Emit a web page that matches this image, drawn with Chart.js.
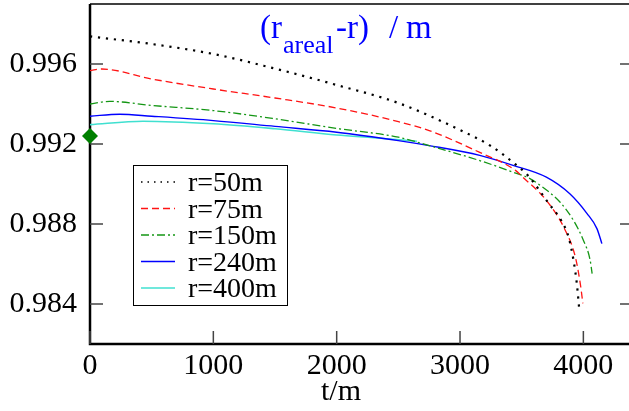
<!DOCTYPE html>
<html>
<head>
<meta charset="utf-8">
<script src="https://cdn.jsdelivr.net/npm/chart.js@4.4.1/dist/chart.umd.min.js"></script>
<style>
html, body { margin: 0; padding: 0; background: #fff; overflow: hidden; }
</style>
</head>
<body>
<canvas id="myChart" width="629" height="411"></canvas>
<script>
// t values (x) and ratio values (y) per series
var t50 = [0, 500, 1000, 1500, 2000, 2500, 3000, 3250, 3450, 3550, 3720, 3825, 3880, 3920, 3947, 3966];
var r50 = [0.99738, 0.99700, 0.99650, 0.99577, 0.99495, 0.99405, 0.99270, 0.99190, 0.99098, 0.99043, 0.98902, 0.98813, 0.98735, 0.98619, 0.98502, 0.98378];

var t75 = [0, 95, 500, 1000, 1500, 2000, 2500, 2750, 3160, 3450, 3510, 3700, 3840, 3935, 3975, 3996];
var r75 = [0.99567, 0.99575, 0.99525, 0.99475, 0.99430, 0.99380, 0.99312, 0.99267, 0.99158, 0.99068, 0.99034, 0.98918, 0.98785, 0.98635, 0.98502, 0.98403];

var t150 = [0, 160, 500, 1000, 1500, 2000, 2500, 2750, 3160, 3430, 3570, 3650, 3810, 3920, 4000, 4055, 4071];
var r150 = [0.99400, 0.99413, 0.99393, 0.99367, 0.99326, 0.99278, 0.99234, 0.99192, 0.99117, 0.99059, 0.99026, 0.98993, 0.98910, 0.98818, 0.98719, 0.98619, 0.98552];

var t240 = [0, 240, 500, 1000, 1500, 2000, 2500, 2750, 3160, 3430, 3700, 3890, 4030, 4110, 4150];
var r240 = [0.99339, 0.99349, 0.99339, 0.99317, 0.99288, 0.99259, 0.99217, 0.99192, 0.99143, 0.99093, 0.99034, 0.98951, 0.98852, 0.98777, 0.98702];

var t400 = [0, 430, 1000, 1500, 2000, 2300, 2650];
var r400 = [0.99297, 0.99314, 0.99301, 0.99276, 0.99245, 0.99231, 0.99214];

var markerT = [0];
var markerY = [0.9924];

var seriesLabels = ['r=50m', 'r=75m', 'r=150m', 'r=240m', 'r=400m'];
var xTicks = [0, 1000, 2000, 3000, 4000];
var yTicks = [0.984, 0.988, 0.992, 0.996];

function pts(t, y) {
    return t.map(function (v, i) { return { x: v, y: y[i] }; });
}

function line(label, t, y, color, width, dash) {
    return {
        label: label,
        data: pts(t, y),
        borderColor: color,
        backgroundColor: color,
        borderWidth: width,
        borderDash: dash,
        pointRadius: 0,
        fill: false,
        cubicInterpolationMode: 'monotone'
    };
}

var serif = "'Liberation Serif', 'DejaVu Serif', serif";

function noPad(s) {
    s.paddingTop = 0;
    s.paddingBottom = 0;
    s.paddingLeft = 0;
    s.paddingRight = 0;
}

// frame, inward ticks, title, axis label and the boxed legend
var decor = {
    id: 'decor',
    beforeDatasetsDraw: function (chart) {
        var ctx = chart.ctx, a = chart.chartArea;
        var xs = chart.scales.x, ys = chart.scales.y;
        ctx.save();
        ctx.strokeStyle = '#000';
        ctx.lineWidth = 2.5;
        ctx.beginPath();
        ctx.moveTo(a.left, a.top);
        ctx.lineTo(a.left, a.bottom);
        ctx.lineTo(a.right, a.bottom);
        ctx.stroke();
        ctx.lineWidth = 1.5;
        ctx.beginPath();
        ctx.moveTo(a.left, a.top);
        ctx.lineTo(a.right, a.top);
        ctx.stroke();

        ctx.strokeStyle = '#444';
        ctx.lineWidth = 1.5;
        ctx.beginPath();
        xTicks.forEach(function (v) {
            var x = xs.getPixelForValue(v);
            ctx.moveTo(x, a.bottom);
            ctx.lineTo(x, a.bottom - 13);
        });
        yTicks.forEach(function (v) {
            var y = ys.getPixelForValue(v);
            ctx.moveTo(a.left, y);
            ctx.lineTo(a.left + 13, y);
            ctx.moveTo(a.right, y);
            ctx.lineTo(a.right - 9, y);
        });
        ctx.stroke();
        ctx.restore();
    },
    afterDraw: function (chart) {
        var ctx = chart.ctx;
        ctx.save();

        // title
        ctx.fillStyle = 'rgb(0,0,255)';
        ctx.textBaseline = 'alphabetic';
        ctx.textAlign = 'left';
        ctx.font = '33px ' + serif;
        ctx.fillText('(r', 260, 38);
        ctx.font = '26px ' + serif;
        ctx.fillText('areal', 283, 53);
        ctx.font = '33px ' + serif;
        ctx.fillText('-r)', 336, 38);
        ctx.fillText('/', 389, 38);
        ctx.fillText('m', 406, 38);

        // x axis label
        ctx.fillStyle = '#000';
        ctx.textAlign = 'center';
        ctx.font = '30px ' + serif;
        ctx.fillText('t/m', 341, 400);

        // legend
        ctx.strokeStyle = '#000';
        ctx.lineWidth = 1;
        ctx.strokeRect(133.5, 165.5, 154, 140);
        ctx.textAlign = 'left';
        ctx.textBaseline = 'middle';
        ctx.font = '28px ' + serif;
        seriesLabels.forEach(function (lab, i) {
            var ds = chart.data.datasets[i];
            var y = 182 + i * 26.5;
            ctx.save();
            ctx.strokeStyle = ds.borderColor;
            ctx.lineWidth = Math.min(ds.borderWidth, 1.5);
            ctx.setLineDash(i === 0 ? [1.5, 5] : ds.borderDash);
            ctx.beginPath();
            ctx.moveTo(141, y);
            ctx.lineTo(175, y);
            ctx.stroke();
            ctx.restore();
            ctx.fillStyle = '#000';
            ctx.fillText(lab, 188, y + 2);
        });
        ctx.restore();
    }
};

var ctx = document.getElementById('myChart').getContext('2d');
var chart = new Chart(ctx, {
    type: 'line',
    data: {
        datasets: [
            line(seriesLabels[0], t50, r50, '#000000', 2.2, [2.2, 5.8]),
            line(seriesLabels[1], t75, r75, 'rgb(255,20,20)', 1.3, [7, 4]),
            line(seriesLabels[2], t150, r150, 'rgb(20,150,20)', 1.3, [8, 3, 2, 3]),
            line(seriesLabels[3], t240, r240, 'rgb(0,0,255)', 1.4, []),
            line(seriesLabels[4], t400, r400, 'rgb(64,224,208)', 1.6, []),
            {
                label: 'marker',
                data: pts(markerT, markerY),
                showLine: false,
                pointStyle: 'rectRot',
                pointRadius: 8,
                pointBackgroundColor: 'rgb(0,128,0)',
                pointBorderColor: 'rgb(0,128,0)',
                pointBorderWidth: 0,
                clip: false
            }
        ]
    },
    options: {
        responsive: false,
        animation: false,
        layout: { autoPadding: false, padding: { left: 0, right: 0, top: 4, bottom: 0 } },
        plugins: {
            legend: { display: false },
            tooltip: { enabled: false }
        },
        scales: {
            x: {
                type: 'linear',
                min: 0,
                max: 4370,
                afterBuildTicks: function (s) { s.ticks = xTicks.map(function (v) { return { value: v }; }); },
                afterFit: function (s) { s.height = 67; noPad(s); },
                grid: { display: false, drawTicks: false },
                border: { display: false },
                ticks: {
                    color: '#000',
                    padding: 4,
                    maxRotation: 0,
                    font: { family: serif, size: 30 },
                    callback: function (v) { return String(v); }
                }
            },
            y: {
                type: 'linear',
                min: 0.982,
                max: 0.999,
                afterBuildTicks: function (s) { s.ticks = yTicks.map(function (v) { return { value: v }; }); },
                afterFit: function (s) { s.width = 90; noPad(s); },
                grid: { display: false, drawTicks: false },
                border: { display: false },
                ticks: {
                    color: '#000',
                    padding: 13,
                    font: { family: serif, size: 30 },
                    callback: function (v) { return v.toFixed(3); }
                }
            }
        }
    },
    plugins: [decor]
});
</script>
</body>
</html>
